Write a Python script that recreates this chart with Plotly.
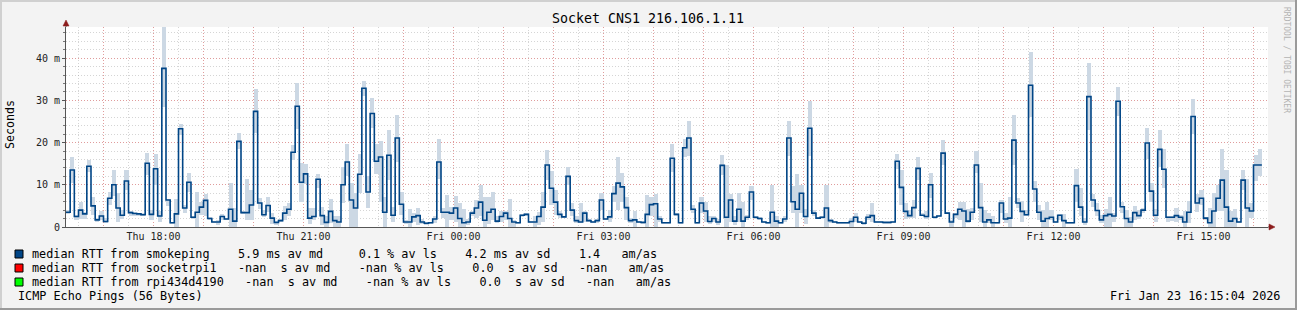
import plotly.graph_objects as go
import pandas as pd

TITLE = "Socket CNS1 216.106.1.11"
START = "2026-01-22 16:15:00"
X_END = "2026-01-23 16:17:24"
STEP = "5min"
Y_MAX = 47.4

MED = [
    3.5, 13.5, 2.5, 4.0, 3.1, 14.4, 5.0, 1.7, 2.6, 1.3,
    6.8, 10.0, 4.5, 2.8, 10.9, 3.4, 3.2, 3.1, 2.9, 15.1,
    3.0, 13.8, 2.6, 37.6, 6.4, 1.0, 3.1, 23.3, 4.5, 10.6,
    2.3, 3.5, 4.7, 6.3, 2.0, 1.2, 1.2, 2.5, 1.9, 4.2,
    1.4, 20.3, 3.4, 3.4, 5.2, 27.4, 5.7, 2.9, 5.1, 2.1,
    1.1, 1.5, 3.3, 4.2, 17.7, 28.6, 10.6, 12.6, 2.1, 2.5,
    11.3, 2.7, 1.1, 3.7, 1.5, 1.2, 10.0, 15.4, 6.4, 4.5,
    12.5, 32.9, 8.3, 26.9, 15.6, 16.6, 3.5, 17.0, 2.8, 21.1,
    5.4, 1.2, 1.2, 2.4, 2.7, 1.2, 0.9, 1.0, 1.9, 15.4,
    3.5, 3.5, 3.3, 4.5, 2.0, 1.0, 1.2, 3.3, 4.5, 5.9,
    1.6, 3.5, 4.2, 1.4, 2.5, 3.3, 2.0, 1.2, 1.0, 2.8,
    3.0, 1.2, 1.2, 2.5, 4.7, 14.7, 9.2, 5.9, 3.0, 2.4,
    12.0, 4.0, 1.5, 1.2, 3.3, 1.5, 1.2, 1.5, 6.4, 1.9,
    2.4, 7.9, 10.4, 9.5, 4.6, 1.5, 1.7, 1.2, 1.1, 3.0,
    5.3, 5.5, 1.9, 1.0, 1.0, 16.3, 3.0, 1.0, 18.8, 21.1,
    4.2, 1.0, 5.7, 3.8, 1.3, 2.0, 1.2, 14.6, 2.3, 6.4,
    1.4, 4.2, 1.4, 2.3, 8.3, 2.3, 2.0, 1.2, 1.0, 3.5,
    1.4, 1.0, 1.9, 21.1, 6.0, 4.2, 8.0, 2.5, 23.4, 3.3,
    2.1, 2.3, 4.5, 1.5, 1.2, 1.0, 1.0, 1.0, 1.3, 2.3,
    1.2, 0.9, 2.3, 2.7, 1.2, 1.2, 1.1, 1.1, 1.2, 15.6,
    9.4, 3.7, 2.7, 4.6, 13.9, 2.8, 2.5, 10.0, 2.3, 2.6,
    17.5, 3.3, 1.2, 3.0, 4.2, 3.8, 1.4, 3.5, 14.7, 4.6,
    1.2, 1.7, 1.0, 1.0, 5.7, 1.9, 2.1, 20.6, 5.7, 3.7,
    2.9, 33.6, 9.0, 3.5, 1.4, 2.0, 2.3, 1.2, 2.8, 1.5,
    1.0, 1.0, 9.8, 4.7, 1.2, 30.9, 6.4, 3.9, 1.7, 2.7,
    3.0, 2.6, 29.8, 4.8, 2.0, 1.2, 3.4, 2.7, 4.0, 19.9,
    8.5, 2.8, 18.4, 13.7, 2.3, 2.3, 2.7, 2.3, 1.2, 3.5,
    26.2, 5.7, 6.8, 2.1, 1.0, 3.8, 6.8, 11.1, 4.7, 1.4,
    2.0, 1.2, 11.1, 4.5, 3.8, 14.7, 14.7,
]

SMOKE_LO = [
    3.0, 10.4, 1.7, 1.9, 2.0, 13.0, 2.9, 1.3, 1.7, 0.9,
    5.3, 7.3, 1.1, 1.9, 8.7, 2.5, 2.6, 2.7, 2.5, 12.4,
    1.7, 10.0, 1.3, 28.4, 5.0, 0.8, 0.0, 21.8, 3.4, 8.3,
    2.0, 0.0, 2.9, 2.5, 1.7, 1.0, 0.4, 1.7, 1.6, 0.0,
    0.0, 18.5, 3.1, 1.7, 1.7, 22.2, 4.3, 2.3, 3.5, 0.8,
    0.4, 1.1, 1.7, 2.6, 15.9, 23.2, 5.9, 10.2, 0.8, 1.7,
    9.2, 0.5, 0.0, 0.9, 0.0, 0.0, 5.7, 12.0, 0.0, 0.0,
    8.0, 31.1, 4.5, 23.4, 12.6, 6.0, 0.0, 11.2, 1.1, 15.5,
    2.9, 0.8, 0.0, 1.1, 0.5, 0.8, 0.7, 0.8, 0.9, 11.3,
    2.1, 0.0, 1.7, 1.3, 0.0, 0.0, 0.5, 2.5, 2.1, 2.5,
    0.0, 0.8, 1.7, 0.9, 1.3, 1.7, 0.0, 0.1, 0.8, 2.3,
    2.5, 1.0, 0.0, 0.4, 1.3, 11.2, 5.3, 2.9, 2.1, 2.1,
    10.0, 2.5, 0.9, 0.9, 1.1, 1.2, 1.0, 0.9, 4.1, 1.6,
    1.1, 6.0, 4.0, 6.0, 1.7, 0.9, 0.0, 1.0, 0.9, 0.0,
    2.5, 0.0, 1.3, 0.8, 0.8, 13.0, 2.5, 0.8, 16.5, 16.9,
    3.4, 0.8, 3.4, 1.3, 0.8, 1.3, 0.4, 12.4, 0.0, 1.3,
    0.5, 1.3, 0.1, 1.7, 6.4, 2.0, 1.7, 1.0, 0.8, 0.0,
    0.1, 0.8, 1.3, 16.9, 3.3, 0.0, 3.3, 0.8, 16.9, 2.5,
    1.8, 2.0, 0.0, 0.9, 1.0, 0.8, 0.8, 0.8, 0.1, 1.3,
    0.9, 0.7, 1.7, 1.3, 1.0, 1.0, 0.9, 0.9, 1.0, 13.8,
    5.3, 1.9, 2.1, 2.1, 11.2, 2.5, 1.9, 6.8, 2.0, 2.3,
    14.6, 3.0, 0.1, 2.1, 1.7, 0.0, 0.9, 1.7, 12.8, 1.3,
    0.0, 0.9, 0.0, 0.8, 3.3, 0.9, 0.0, 14.6, 4.5, 1.3,
    2.5, 26.0, 6.0, 1.7, 0.0, 0.0, 1.7, 1.0, 1.7, 0.1,
    0.8, 0.8, 6.0, 2.5, 0.5, 22.9, 4.7, 2.5, 0.9, 0.0,
    0.0, 1.3, 26.4, 3.3, 0.1, 0.0, 1.7, 1.9, 3.3, 16.2,
    6.0, 1.3, 14.3, 9.2, 1.3, 1.5, 1.3, 1.7, 0.0, 0.9,
    22.1, 3.5, 5.3, 1.7, 0.0, 0.0, 3.7, 3.7, 0.0, 0.0,
    0.0, 1.0, 8.8, 0.0, 2.1, 10.9, 12.0,
]

SMOKE_HI = [
    4.1, 16.6, 2.9, 5.9, 3.5, 15.8, 7.0, 2.1, 3.7, 2.2,
    8.4, 13.6, 8.0, 4.1, 13.4, 3.7, 3.5, 3.4, 3.3, 17.6,
    4.1, 17.3, 3.7, 47.4, 6.7, 1.2, 6.7, 24.5, 5.3, 12.8,
    2.6, 8.3, 6.0, 7.9, 2.3, 1.5, 1.7, 3.1, 2.2, 10.4,
    4.5, 22.2, 3.7, 11.4, 8.8, 32.7, 6.8, 4.1, 7.1, 3.4,
    1.3, 1.8, 5.0, 5.8, 19.4, 34.2, 15.1, 15.0, 4.5, 4.6,
    12.6, 4.7, 2.5, 6.7, 2.5, 2.5, 14.3, 19.7, 10.4, 8.0,
    17.3, 34.6, 12.2, 30.5, 19.7, 20.5, 7.2, 23.0, 4.8, 26.6,
    8.4, 1.7, 4.2, 3.3, 4.5, 1.9, 1.1, 1.2, 2.5, 20.9,
    4.5, 7.6, 4.8, 7.4, 5.8, 4.3, 1.9, 3.8, 6.5, 10.0,
    7.0, 7.0, 8.2, 2.5, 3.8, 3.7, 6.7, 1.7, 1.2, 3.0,
    3.4, 1.4, 2.5, 3.5, 8.3, 18.3, 13.2, 8.7, 3.7, 2.7,
    14.3, 5.7, 2.5, 5.7, 3.7, 1.8, 1.5, 1.9, 8.0, 2.2,
    4.1, 9.8, 16.7, 12.8, 7.2, 2.1, 3.7, 1.4, 1.3, 7.6,
    7.2, 7.9, 2.5, 1.2, 1.2, 19.7, 3.3, 1.2, 20.9, 25.2,
    5.3, 1.2, 7.2, 6.0, 2.5, 2.5, 1.9, 17.1, 14.7, 7.9,
    2.5, 8.0, 6.0, 2.9, 9.6, 2.6, 2.3, 1.4, 1.2, 10.0,
    2.5, 1.2, 2.5, 25.2, 9.6, 12.6, 10.0, 4.3, 29.9, 4.1,
    2.4, 2.6, 10.0, 1.9, 1.4, 1.2, 1.2, 1.2, 2.2, 3.3,
    1.5, 1.1, 3.0, 5.7, 1.4, 1.4, 1.3, 1.3, 1.4, 17.3,
    13.4, 5.7, 4.1, 6.5, 16.7, 3.3, 3.8, 12.8, 2.6, 2.9,
    20.7, 3.6, 1.7, 3.3, 6.0, 6.0, 4.3, 4.5, 17.9, 10.4,
    4.1, 3.3, 2.5, 1.3, 6.5, 3.3, 7.2, 26.6, 6.8, 6.2,
    4.1, 41.4, 10.8, 5.3, 4.1, 5.9, 4.1, 1.4, 3.0, 3.1,
    1.2, 1.2, 13.8, 9.2, 2.2, 38.8, 7.9, 5.7, 2.9, 4.3,
    7.1, 3.4, 33.2, 6.0, 4.1, 2.3, 5.0, 4.1, 4.5, 23.4,
    10.4, 4.3, 23.0, 18.5, 2.5, 2.5, 4.5, 2.9, 3.7, 6.2,
    30.4, 7.9, 8.8, 2.3, 4.5, 8.0, 10.0, 18.5, 13.6, 3.7,
    4.3, 1.4, 13.6, 11.3, 5.7, 17.1, 18.5,
]

Y_TICKS = [0, 10, 20, 30, 40]
Y_TICK_LABELS = ["0", "10 m", "20 m", "30 m", "40 m"]
X_TICK_LABELS = ["Thu 18:00", "Thu 21:00", "Fri 00:00", "Fri 03:00",
                 "Fri 06:00", "Fri 09:00", "Fri 12:00", "Fri 15:00"]

LEGEND_ROWS = [
    ("median RTT from smokeping    5.9 ms av md     0.1 % av ls    4.2 ms av sd    1.4   am/as", "#004586"),
    ("median RTT from socketrpi1   -nan  s av md    -nan % av ls    0.0  s av sd   -nan   am/as", "#ff0000"),
    ("median RTT from rpi434d4190   -nan  s av md    -nan % av ls    0.0  s av sd   -nan   am/as", "#00ff00"),
]
FOOTER_LEFT = "ICMP Echo Pings (56 Bytes)"
FOOTER_RIGHT = "Fri Jan 23 16:15:04 2026"
SIDE_TEXT = "RRDTOOL / TOBI OETIKER"
Y_TITLE = "Seconds"

LINE_COLOR = "#004586"
SMOKE_COLOR = "rgb(204,216,228)"
FONT = "DejaVu Sans Mono"

# ---- page geometry (pixels) ----
W, H = 1297, 310
PL, PR, PT, PB = 66, 1268, 27, 227


def px(x):
    return (x - PL) / (PR - PL)


def py(y):
    return (PB - y) / (PB - PT)


def nb(s):
    return s.replace(" ", "\u00a0")


step = pd.Timedelta(STEP)
times = pd.date_range(START, periods=len(MED), freq=STEP)
t_end = times[-1] + step

fig = go.Figure()

fig.add_trace(go.Bar(
    x=times + step / 2,
    base=SMOKE_LO,
    y=[h - l for h, l in zip(SMOKE_HI, SMOKE_LO)],
    width=step.total_seconds() * 1000,
    marker=dict(color=SMOKE_COLOR, line=dict(width=0)),
    hoverinfo="skip",
    showlegend=False,
))

fig.add_trace(go.Scatter(
    x=list(times) + [t_end],
    y=MED + [MED[-1]],
    mode="lines",
    line=dict(color=LINE_COLOR, width=1.6, shape="hv"),
    showlegend=False,
))

hours = pd.date_range(times[0].ceil("1h"), X_END, freq="1h")
x_tickvals = list(hours)
x_ticktext = [h.strftime("%a %H:%M") if h.strftime("%a %H:%M") in X_TICK_LABELS else ""
              for h in hours]

MAJOR_GRID = "rgba(235,100,100,0.5)"
MINOR_GRID = "rgba(150,150,150,0.4)"

fig.update_layout(
    width=W, height=H,
    margin=dict(l=PL, r=W - PR, t=PT, b=H - PB, pad=0),
    paper_bgcolor="#f3f3f3",
    plot_bgcolor="#ffffff",
    bargap=0,
    showlegend=False,
    font=dict(family=FONT, size=10, color="#111"),
    xaxis=dict(
        type="date",
        range=[START, X_END],
        tickmode="array", tickvals=x_tickvals, ticktext=x_ticktext,
        showgrid=True, gridcolor=MAJOR_GRID, griddash="1px,2px", gridwidth=1,
        minor=dict(tickmode="linear", tick0=START.replace("16:15", "16:30"),
                   dtick=1800000, showgrid=True, gridcolor=MINOR_GRID,
                   griddash="1px,2px", gridwidth=1, ticks=""),
        ticks="", showline=True, linecolor="#555555", linewidth=1,
        zeroline=False, tickfont=dict(family=FONT, size=10, color="#222"),
        fixedrange=True,
    ),
    yaxis=dict(
        range=[0, Y_MAX],
        tickmode="array", tickvals=Y_TICKS, ticktext=Y_TICK_LABELS,
        showgrid=True, gridcolor=MAJOR_GRID, griddash="1px,2px", gridwidth=1,
        minor=dict(tickmode="linear", tick0=0, dtick=2, showgrid=True,
                   gridcolor=MINOR_GRID, griddash="1px,2px", gridwidth=1,
                   ticks="outside", ticklen=2, tickcolor="#777"),
        ticks="outside", ticklen=3, tickcolor="#555",
        showline=True, linecolor="#555555", linewidth=1,
        zeroline=False, tickfont=dict(family=FONT, size=10, color="#222"),
        fixedrange=True,
    ),
)

shapes = []
ARROW = "#8c1c1c"
# axis extensions and arrows
shapes.append(dict(type="line", xref="paper", yref="paper",
                   x0=px(PL), x1=px(PL), y0=py(PT), y1=py(23),
                   line=dict(color="#555555", width=1)))
shapes.append(dict(type="path", xref="paper", yref="paper",
                   path=f"M {px(63)} {py(26)} L {px(69)} {py(26)} L {px(66)} {py(20)} Z",
                   fillcolor=ARROW, line=dict(color=ARROW, width=0.5)))
shapes.append(dict(type="line", xref="paper", yref="paper",
                   x0=px(PR), x1=px(1270), y0=py(PB), y1=py(PB),
                   line=dict(color="#555555", width=1)))
shapes.append(dict(type="path", xref="paper", yref="paper",
                   path=f"M {px(1269)} {py(224)} L {px(1269)} {py(230)} L {px(1275)} {py(PB)} Z",
                   fillcolor=ARROW, line=dict(color=ARROW, width=0.5)))

# page frame (3D look)
shapes.append(dict(type="line", xref="paper", yref="paper",
                   x0=px(0), x1=px(W), y0=py(1), y1=py(1),
                   line=dict(color="#d0d0d0", width=2)))
shapes.append(dict(type="line", xref="paper", yref="paper",
                   x0=px(1), x1=px(1), y0=py(0), y1=py(H),
                   line=dict(color="#d0d0d0", width=2)))
shapes.append(dict(type="line", xref="paper", yref="paper",
                   x0=px(0), x1=px(W), y0=py(H - 1), y1=py(H - 1),
                   line=dict(color="#9a9a9a", width=2)))
shapes.append(dict(type="line", xref="paper", yref="paper",
                   x0=px(W - 1), x1=px(W - 1), y0=py(0), y1=py(H),
                   line=dict(color="#9a9a9a", width=2)))

# legend colour boxes
annotations = []
row_y = [254, 268, 282]
LEG_FONT = 11.8
for (text, color), yy in zip(LEGEND_ROWS, row_y):
    shapes.append(dict(type="rect", xref="paper", yref="paper",
                       x0=px(15), x1=px(23), y0=py(yy + 4), y1=py(yy - 4),
                       fillcolor=color, line=dict(color="#000000", width=1)))
    annotations.append(dict(text=nb(text), xref="paper", yref="paper",
                            x=px(30), y=py(yy), xanchor="left", yanchor="middle",
                            showarrow=False, font=dict(family=FONT, size=LEG_FONT, color="#000")))

annotations.append(dict(text=nb(FOOTER_LEFT), xref="paper", yref="paper",
                        x=px(16), y=py(296), xanchor="left", yanchor="middle",
                        showarrow=False, font=dict(family=FONT, size=LEG_FONT, color="#000")))
annotations.append(dict(text=nb(FOOTER_RIGHT), xref="paper", yref="paper",
                        x=px(1282), y=py(296), xanchor="right", yanchor="middle",
                        showarrow=False, font=dict(family=FONT, size=LEG_FONT, color="#000")))
annotations.append(dict(text=nb(TITLE), xref="paper", yref="paper",
                        x=px(648), y=py(19), xanchor="center", yanchor="middle",
                        showarrow=False, font=dict(family=FONT, size=13.3, color="#000")))
annotations.append(dict(text=Y_TITLE, xref="paper", yref="paper",
                        x=px(10), y=py(125), xanchor="center", yanchor="middle",
                        textangle=-90, showarrow=False,
                        font=dict(family=FONT, size=11.6, color="#000")))
annotations.append(dict(text=nb(SIDE_TEXT), xref="paper", yref="paper",
                        x=px(1287), y=py(60), xanchor="center", yanchor="middle",
                        textangle=90, showarrow=False,
                        font=dict(family=FONT, size=8, color="#b4b4b4")))

fig.update_layout(shapes=shapes, annotations=annotations)

fig.write_html("out.html")
